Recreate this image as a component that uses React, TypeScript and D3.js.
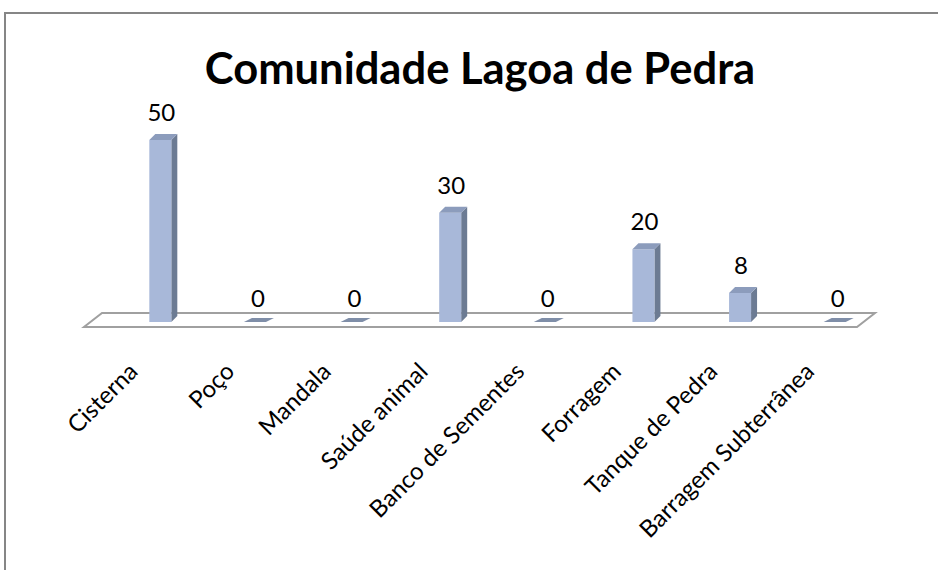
import * as d3 from 'd3';

const categories = [
  'Cisterna',
  'Poço',
  'Mandala',
  'Saúde animal',
  'Banco de Sementes',
  'Forragem',
  'Tanque de Pedra',
  'Barragem Subterrânea',
];
const values = [50, 0, 0, 30, 0, 20, 8, 0];
const title = 'Comunidade Lagoa de Pedra';

const width = 938;
const height = 570;

// depth of the fake 3d
const dx = 6;
const dy = 6;
const floorDx = 18;
const floorDy = 14;

export default function App() {
  const x = d3.scaleBand<string>().domain(categories).range([112, 885]);
  const y = d3.scaleLinear().domain([0, 50]).range([322, 140]);
  const barW = 22;
  const base = y(0);

  const fl = x.range()[0] - 28;
  const fr = x.range()[1] - 28;
  const floorFront = base + 5;
  const floor = [
    [fl, floorFront],
    [fr, floorFront],
    [fr + floorDx, floorFront - floorDy],
    [fl + floorDx, floorFront - floorDy],
  ]
    .map((p) => p.join(','))
    .join(' ');

  return (
    <svg
      width={width}
      height={height}
      style={{ position: 'absolute', left: 0, top: 0 }}
      fontFamily='Lato, sans-serif'
    >
      <rect width={width} height={height} fill='#fff' />
      <rect
        x={5}
        y={13}
        width={width + 10}
        height={height + 10}
        fill='none'
        stroke='#868686'
        strokeWidth={2}
      />
      <text
        x={480}
        y={84}
        textAnchor='middle'
        fontSize={43.5}
        fontWeight='bold'
        fill='#000'
      >
        {title}
      </text>

      <polygon points={floor} fill='#fff' stroke='#a0a0a0' strokeWidth={2} />

      {categories.map((c, i) => {
        const v = values[i];
        const cx = (x(c) ?? 0) + x.bandwidth() / 2;
        const x0 = cx - barW / 2;
        const x1 = cx + barW / 2;
        const top = y(v);
        if (v === 0) {
          // flat zero bar, only the top face shows
          const t = `${x0 - 2},${base} ${x1 - 2},${base} ${x1 + dx},${base - 4} ${x0 + dx},${base - 4}`;
          return (
            <g key={c}>
              <polygon points={t} fill='#7f8ea8' />
              <text x={cx + 1} y={base - 15} textAnchor='middle' fontSize={24}>
                {v}
              </text>
            </g>
          );
        }
        const front = `${x0},${top} ${x1},${top} ${x1},${base} ${x0},${base}`;
        const side = `${x1},${top} ${x1 + dx},${top - dy} ${x1 + dx},${base - dy} ${x1},${base}`;
        const tp = `${x0},${top} ${x0 + dx},${top - dy} ${x1 + dx},${top - dy} ${x1},${top}`;
        return (
          <g key={c}>
            <polygon points={side} fill='#6c7b93' />
            <polygon points={front} fill='#a8b8d9' />
            <polygon points={tp} fill='#8c9cbc' />
            <text
              x={cx + 1}
              y={top - dy - 13}
              textAnchor='middle'
              fontSize={24}
            >
              {v}
            </text>
          </g>
        );
      })}

      {categories.map((c) => {
        const cx = (x(c) ?? 0) + x.bandwidth() / 2;
        return (
          <text
            key={c}
            transform={`translate(${cx - 21},${base + 51}) rotate(-45)`}
            textAnchor='end'
            fontSize={24}
          >
            {c}
          </text>
        );
      })}
    </svg>
  );
}
